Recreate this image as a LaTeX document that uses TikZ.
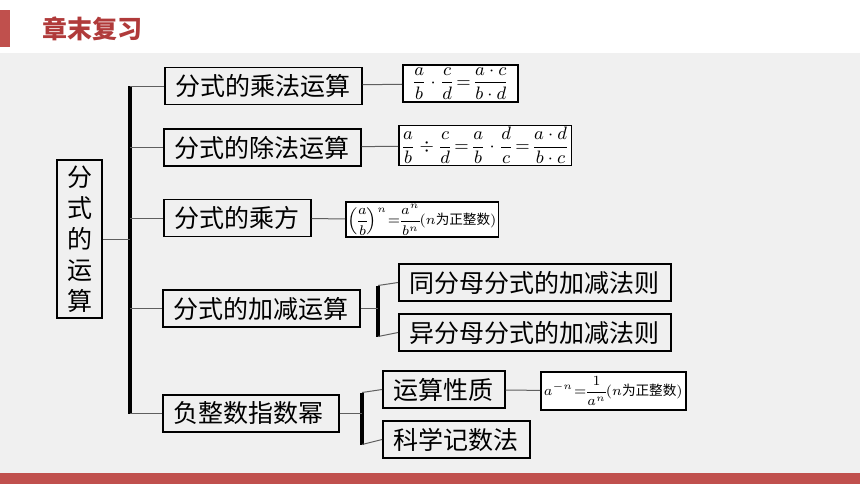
\documentclass[tikz,border=0pt]{standalone}
\usepackage{fontspec}
\usepackage{amsmath}
\usetikzlibrary{positioning, calc}
\newfontfamily\cjk{Noto Sans CJK SC}
\definecolor{panelgray}{RGB}{240,240,240}
\definecolor{titlered}{RGB}{176,58,58}
\definecolor{barred}{RGB}{192,80,77}
\definecolor{linkgray}{RGB}{95,95,95}
\newcommand{\tightmath}{\thickmuskip=1mu\medmuskip=1mu\nulldelimiterspace=0pt\relax}
\newcommand{\eqmath}{\thickmuskip=2mu\relax}

\begin{document}
\begin{tikzpicture}[x=0.5pt, y=-0.5pt,
    topic/.style={draw, line width=0.8pt, anchor=west, minimum height=18.5pt,
      inner xsep=5.5pt, inner ysep=0pt, font=\cjk\fontsize{12.5}{14}\selectfont},
    formula/.style={draw, line width=0.8pt, fill=white, anchor=west,
      minimum height=18.5pt, inner sep=1pt, font=\eqmath\fontsize{9}{10}\selectfont},
    small/.style={font=\tightmath\fontsize{7.5}{9}\selectfont},
    link/.style={draw=linkgray, line width=0.5pt},
    bracket/.style={draw, line width=1.6pt}]
  \useasboundingbox (0,0) rectangle (860,484);

  % background and header
  \fill[panelgray] (0,53) rectangle (860,473);
  \fill[barred] (0,473) rectangle (860,484);
  \fill[barred] (0,10) rectangle (10,47);
  \node[anchor=west, inner sep=0pt, text=titlered,
    font=\cjk\bfseries\fontsize{12.5}{14}\selectfont] (title) at (42,29) {章末复习};

  % root and main branches
  \node[draw, line width=0.8pt, minimum width=22.5pt, minimum height=79pt, inner sep=0pt,
    align=center, font=\cjk\fontsize{12.5}{15.5}\selectfont] (root) at (79.5,239)
    {分\\式\\的\\运\\算};
  \node[topic] (mul) at (164,86) {分式的乘法运算};
  \node[topic] (div) at (163,147.5) {分式的除法运算};
  \node[topic] (pow) at (163,218) {分式的乘方};
  \node[topic] (add) at (162,308.5) {分式的加减运算};
  \node[topic, text width=77pt] (neg) at (162,413.5) {负整数指数幂};

  % sub branches
  \node[topic] (same) at (398,282.5) {同分母分式的加减法则};
  \node[topic] (diff) at (398,332.5) {异分母分式的加减法则};
  \node[topic] (prop) at (382,389.5) {运算性质};
  \node[topic] (sci) at (382,439.5) {科学记数法};

  % formulas
  \node[formula, minimum width=57.5pt] (fmul) at (402,83.5)
    {$\dfrac{a}{b}\cdot\dfrac{c}{d}=\dfrac{a\cdot c}{b\cdot d}$};
  \node[formula, minimum width=84.5pt] (fdiv) at (398,145.5)
    {$\dfrac{a}{b}\div\dfrac{c}{d}=\dfrac{a}{b}\cdot\dfrac{d}{c}=\dfrac{a\cdot d}{b\cdot c}$};
  \node[formula, small, minimum width=74pt, minimum height=17.5pt] (fpow) at (345,219.5)
    {$\left(\dfrac{a}{b}\right)^{n}=\dfrac{a^{n}}{b^{n}}(n${\cjk\fontsize{6.8}{8}\selectfont 为正整数}$)$};
  \node[formula, small, minimum width=72.5pt, minimum height=19pt] (fneg) at (540,391)
    {$a^{-n}=\dfrac{1}{a^{n}}(n${\cjk\fontsize{6.8}{8}\selectfont 为正整数}$)$};

  % brackets
  \coordinate (spine) at (130,0);
  \coordinate (addspine) at (378,0);
  \coordinate (negspine) at (362,0);
  \draw[bracket] (spine |- mul) -- (spine |- neg);
  \draw[bracket] ($(addspine |- same)+(0,3)$) -- ($(addspine |- diff)+(0,4)$);
  \draw[bracket] ($(negspine |- prop)+(0,3)$) -- ($(negspine |- sci)+(0,5)$);

  % connectors
  \draw[link] (root.east) -- (spine |- root);
  \foreach \n in {mul, div, pow, add, neg}
    \draw[link] (spine |- \n) -- (\n.west);
  \draw[link] (add.east) -- (addspine |- add);
  \draw[link] ($(addspine |- same)+(0,3)$) -- (same.west);
  \draw[link] ($(addspine |- diff)+(0,4)$) -- (diff.west);
  \draw[link] (neg.east) -- (negspine |- neg);
  \draw[link] ($(negspine |- prop)+(0,3)$) -- (prop.west);
  \draw[link] ($(negspine |- sci)+(0,5)$) -- (sci.west);
  \path[link] (mul) edge (fmul)
              (div) edge (fdiv)
              (pow) edge (fpow)
              (prop) edge (fneg);
\end{tikzpicture}
\end{document}
